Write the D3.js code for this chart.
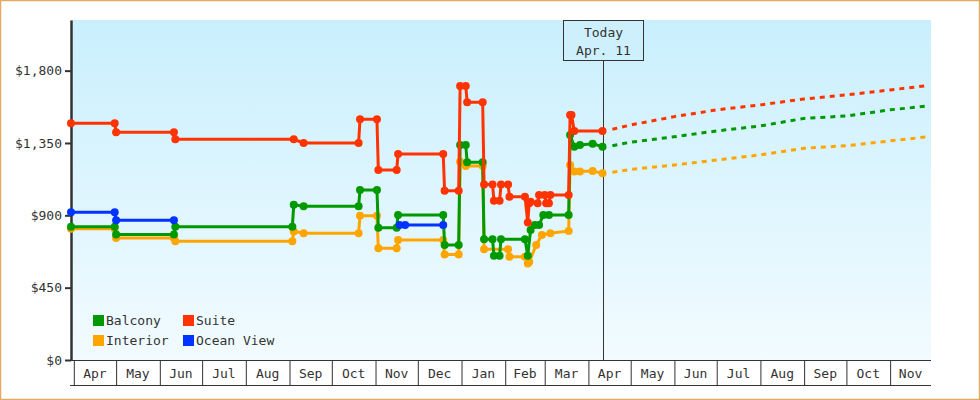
<!DOCTYPE html>
<html>
<head>
<meta charset="utf-8">
<script src="https://cdn.jsdelivr.net/npm/d3@7"></script>
<style>
  body { margin: 0; background: #fff; }
  svg text { font-family: "DejaVu Sans Mono", monospace; font-size: 13px; fill: #333; }
</style>
</head>
<body>
<div id="chart"></div>
<script>
// Cabin price history + forecast, step-ish lines with point markers

const yTickValues = [0, 450, 900, 1350, 1800];
const seriesNames = ["Balcony", "Suite", "Interior", "Ocean View"];
const seriesColors = ["#009900", "#ff3300", "#ffa500", "#0033ff"];
const todayDate = "2015-04-11";
const todayLabel = ["Today", "Apr. 11"];

const balconyPrices = [
  ["2014-03-30", 829], ["2014-04-30", 829], ["2014-05-01", 780], ["2014-06-11", 780],
  ["2014-06-12", 829], ["2014-09-03", 829], ["2014-09-04", 966], ["2014-09-11", 956],
  ["2014-10-20", 956], ["2014-10-21", 1058], ["2014-11-02", 1058], ["2014-11-03", 823],
  ["2014-11-16", 823], ["2014-11-17", 902], ["2014-12-19", 902], ["2014-12-20", 716],
  ["2014-12-30", 716], ["2014-12-31", 1338], ["2015-01-04", 1338], ["2015-01-05", 1230],
  ["2015-01-16", 1230], ["2015-01-17", 751], ["2015-01-23", 751], ["2015-01-24", 649],
  ["2015-01-28", 649], ["2015-01-29", 751], ["2015-02-15", 751], ["2015-02-17", 649],
  ["2015-02-19", 809], ["2015-02-22", 840], ["2015-02-25", 840], ["2015-02-28", 902],
  ["2015-03-04", 902], ["2015-03-18", 902], ["2015-03-19", 1400], ["2015-03-22", 1327],
  ["2015-03-26", 1338], ["2015-04-04", 1345], ["2015-04-11", 1327]
];

const suitePrices = [
  ["2014-03-30", 1473], ["2014-04-30", 1473], ["2014-05-01", 1417], ["2014-06-11", 1417],
  ["2014-06-12", 1373], ["2014-09-04", 1373], ["2014-09-11", 1350], ["2014-10-20", 1350],
  ["2014-10-21", 1498], ["2014-11-02", 1498], ["2014-11-03", 1182], ["2014-11-16", 1182],
  ["2014-11-17", 1282], ["2014-12-19", 1282], ["2014-12-20", 1053], ["2014-12-30", 1053],
  ["2014-12-31", 1705], ["2015-01-04", 1705], ["2015-01-05", 1603], ["2015-01-16", 1603],
  ["2015-01-17", 1091], ["2015-01-23", 1091], ["2015-01-24", 991], ["2015-01-28", 991],
  ["2015-01-29", 1091], ["2015-02-03", 1091], ["2015-02-04", 1016], ["2015-02-15", 1016],
  ["2015-02-17", 855], ["2015-02-18", 975], ["2015-02-19", 985], ["2015-02-24", 975],
  ["2015-02-25", 1027], ["2015-03-01", 1027], ["2015-03-02", 975], ["2015-03-04", 975],
  ["2015-03-05", 1027], ["2015-03-18", 1027], ["2015-03-19", 1524], ["2015-03-20", 1524],
  ["2015-03-22", 1425], ["2015-04-11", 1425]
];

const interiorPrices = [
  ["2014-03-30", 817], ["2014-04-30", 817], ["2014-05-01", 759], ["2014-06-11", 759],
  ["2014-06-12", 738], ["2014-09-03", 738], ["2014-09-04", 800], ["2014-09-11", 788],
  ["2014-10-20", 788], ["2014-10-21", 898], ["2014-11-02", 898], ["2014-11-03", 695],
  ["2014-11-16", 695], ["2014-11-17", 747], ["2014-12-19", 747], ["2014-12-20", 657],
  ["2014-12-30", 657], ["2014-12-31", 1234], ["2015-01-04", 1207], ["2015-01-16", 1207],
  ["2015-01-17", 689], ["2015-02-03", 689], ["2015-02-04", 643], ["2015-02-15", 643],
  ["2015-02-17", 601], ["2015-02-18", 610], ["2015-02-23", 716], ["2015-02-27", 778],
  ["2015-03-05", 788], ["2015-03-18", 803], ["2015-03-19", 1213], ["2015-03-22", 1172],
  ["2015-03-26", 1172], ["2015-04-04", 1176], ["2015-04-11", 1161]
];

// null marks the gap in the ocean view history
const oceanViewPrices = [
  ["2014-03-30", 919], ["2014-04-30", 919], ["2014-05-01", 869], ["2014-06-11", 869],
  ["2014-08-01", null],
  ["2014-11-18", 840], ["2014-11-22", 840], ["2014-12-19", 840]
];

const balconyForecast = [
  ["2015-04-18", 1333], ["2015-05-01", 1355], ["2015-06-01", 1389], ["2015-07-01", 1425],
  ["2015-08-01", 1456], ["2015-09-01", 1503], ["2015-10-01", 1518], ["2015-11-01", 1556],
  ["2015-11-28", 1580]
];
const suiteForecast = [
  ["2015-04-18", 1435], ["2015-05-01", 1462], ["2015-06-01", 1514], ["2015-07-01", 1556],
  ["2015-08-01", 1587], ["2015-09-01", 1624], ["2015-10-01", 1649], ["2015-11-01", 1680],
  ["2015-11-28", 1707]
];
const interiorForecast = [
  ["2015-04-18", 1168], ["2015-05-01", 1185], ["2015-06-01", 1213], ["2015-07-01", 1244],
  ["2015-08-01", 1276], ["2015-09-01", 1317], ["2015-10-01", 1333], ["2015-11-01", 1363],
  ["2015-11-28", 1389]
];

const parseDate = d3.timeParse("%Y-%m-%d");

const width = 980, height = 400;
const plot = { left: 71, right: 931, top: 20, bottom: 360 };

const svg = d3.select("#chart").append("svg")
  .attr("width", width)
  .attr("height", height);

// background gradient
const grad = svg.append("defs").append("linearGradient")
  .attr("id", "bg").attr("x1", 0).attr("y1", 0).attr("x2", 0).attr("y2", 1);
grad.append("stop").attr("offset", "0%").attr("stop-color", "#c9effd");
grad.append("stop").attr("offset", "100%").attr("stop-color", "#f2fbff");

svg.append("rect")
  .attr("x", 0.5).attr("y", 0.5).attr("width", width - 1).attr("height", height - 1)
  .attr("fill", "#fff").attr("stroke", "#e6a962").attr("stroke-width", 1.5);

svg.append("rect")
  .attr("x", plot.left).attr("y", plot.top)
  .attr("width", plot.right - plot.left).attr("height", plot.bottom - plot.top)
  .attr("fill", "url(#bg)");

const x = d3.scaleTime()
  .domain([parseDate("2014-03-30"), parseDate("2015-11-30")])
  .range([plot.left, plot.right]);

const y = d3.scaleLinear()
  .domain([0, 2115])
  .range([plot.bottom, plot.top]);

// x axis: month boxes with labels centred in each month
const monthStarts = d3.timeMonth.range(d3.timeMonth.ceil(x.domain()[0]), x.domain()[1]);
const xAxis = svg.append("g")
  .attr("transform", `translate(0,${plot.bottom})`)
  .call(d3.axisBottom(x).tickValues(monthStarts).tickSize(25).tickSizeOuter(0).tickFormat(""));
xAxis.select(".domain").remove();
xAxis.selectAll(".tick line").attr("stroke", "#333");

svg.append("line")
  .attr("x1", plot.left - 1).attr("x2", plot.right)
  .attr("y1", plot.bottom + 0.5).attr("y2", plot.bottom + 0.5)
  .attr("stroke", "#333");
svg.append("line")
  .attr("x1", plot.left - 1).attr("x2", plot.right)
  .attr("y1", plot.bottom + 25.5).attr("y2", plot.bottom + 25.5)
  .attr("stroke", "#333");

const fmtMonth = d3.timeFormat("%b");
svg.append("g").selectAll("text")
  .data(monthStarts)
  .join("text")
  .attr("x", d => (x(d) + Math.min(x(d3.timeMonth.offset(d, 1)), plot.right)) / 2)
  .attr("y", plot.bottom + 18)
  .attr("text-anchor", "middle")
  .text(d => fmtMonth(d));

// y axis
const yAxis = svg.append("g")
  .attr("transform", `translate(${plot.left},0)`)
  .call(d3.axisLeft(y).tickValues(yTickValues).tickSize(6).tickSizeOuter(0)
    .tickFormat(d => "$" + d3.format(",")(d)));
yAxis.select(".domain").attr("stroke", "#333").attr("stroke-width", 2.5);
yAxis.selectAll(".tick line").attr("stroke", "#333").attr("stroke-width", 2);
yAxis.selectAll(".tick text")
  .attr("x", -9)
  .style("font-family", "DejaVu Sans Mono, monospace")
  .style("font-size", "13px")
  .attr("fill", "#333");
xAxis.selectAll("text").remove();

// today marker
const tx = Math.round(x(parseDate(todayDate))) + 0.5;
svg.append("line")
  .attr("x1", tx).attr("x2", tx).attr("y1", 61).attr("y2", plot.bottom)
  .attr("stroke", "#333");
svg.append("rect")
  .attr("x", tx - 40).attr("y", plot.top + 0.5).attr("width", 80).attr("height", 40)
  .attr("fill", "#cdf0fc").attr("stroke", "#333");
svg.append("g").selectAll("text")
  .data(todayLabel)
  .join("text")
  .attr("x", tx)
  .attr("y", (d, i) => 37 + i * 18)
  .attr("text-anchor", "middle")
  .text(d => d);

// series lines
const line = d3.line()
  .defined(d => d[1] !== null)
  .x(d => x(parseDate(d[0])))
  .y(d => y(d[1]));

const forecasts = [
  { data: interiorForecast, color: seriesColors[2] },
  { data: balconyForecast, color: seriesColors[0] },
  { data: suiteForecast, color: seriesColors[1] }
];
svg.append("g").selectAll("path")
  .data(forecasts)
  .join("path")
  .attr("d", d => line(d.data))
  .attr("fill", "none")
  .attr("stroke", d => d.color)
  .attr("stroke-width", 3)
  .attr("stroke-dasharray", "5,5");

const history = [
  { data: interiorPrices, color: seriesColors[2] },
  { data: balconyPrices, color: seriesColors[0] },
  { data: oceanViewPrices, color: seriesColors[3] },
  { data: suitePrices, color: seriesColors[1] }
];

history.forEach(s => {
  const g = svg.append("g");
  g.append("path")
    .attr("d", line(s.data))
    .attr("fill", "none")
    .attr("stroke", s.color)
    .attr("stroke-width", 3);
  g.selectAll("circle")
    .data(s.data.filter(d => d[1] !== null))
    .join("circle")
    .attr("cx", d => x(parseDate(d[0])))
    .attr("cy", d => y(d[1]))
    .attr("r", 4)
    .attr("fill", s.color);
});

// legend
const legend = svg.append("g").attr("transform", "translate(93,315)");
const li = legend.selectAll("g")
  .data(seriesNames)
  .join("g")
  .attr("transform", (d, i) => `translate(${(i % 2) * 90},${Math.floor(i / 2) * 20})`);
li.append("rect")
  .attr("width", 11).attr("height", 11)
  .attr("fill", (d, i) => seriesColors[i]);
li.append("text")
  .attr("x", 13).attr("y", 10)
  .text(d => d);
</script>
</body>
</html>
